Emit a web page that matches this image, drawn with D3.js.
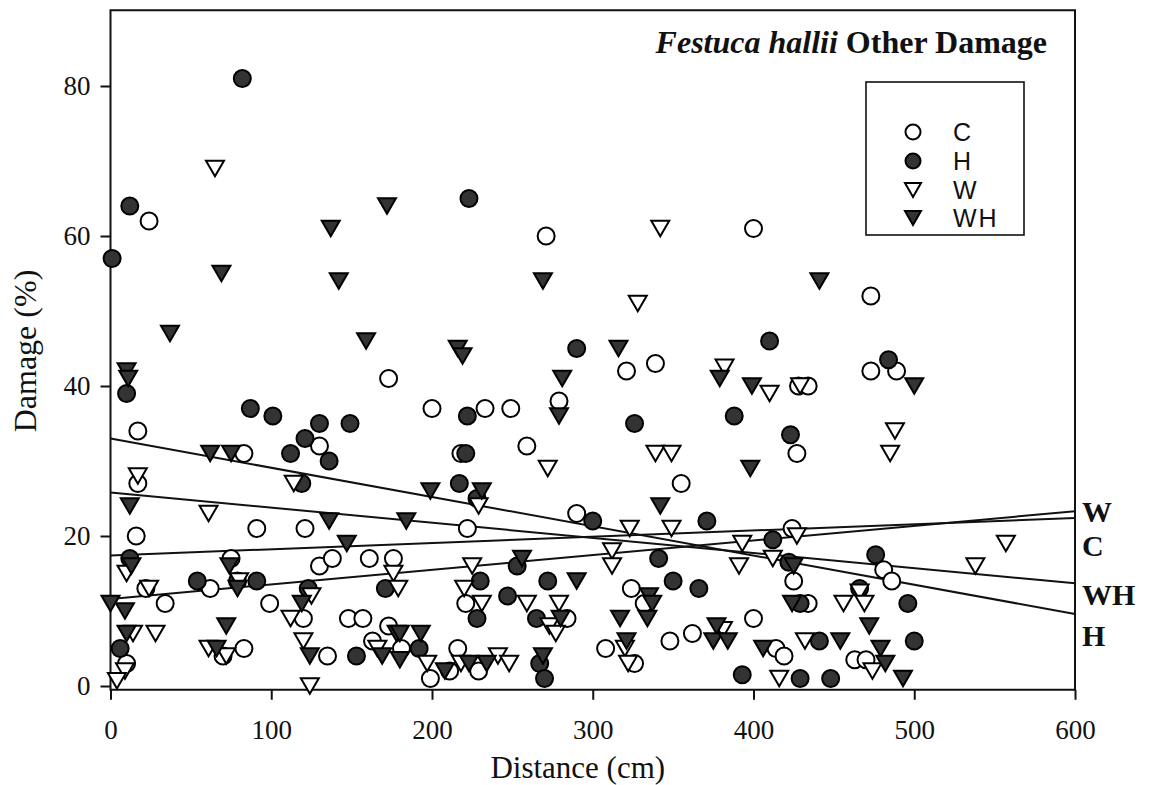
<!DOCTYPE html>
<html>
<head>
<meta charset="utf-8">
<script src="https://cdn.jsdelivr.net/npm/d3@7/dist/d3.min.js"></script>
<style>
  html, body { margin: 0; padding: 0; background: #fff; }
  svg { display: block; }
</style>
</head>
<body>
<svg id="chart" width="1151" height="785"></svg>
<script>
// Treatment groups, in drawing order
const groups = ["C", "H", "W", "WH"];

// Observations: [distance (cm), damage (%)]
const seriesC = [
  [24,62],[271,60],[400,61],[173,41],[17,34],[130,32],[83,31],[17,27],[339,43],[321,42],
  [200,37],[233,37],[249,37],[279,38],[218,31],[259,32],[355,27],[473,52],[473,42],[489,42],
  [428,40],[434,40],[427,31],[16,20],[91,21],[121,21],[75,17],[130,16],[138,17],[161,17],
  [176,17],[62,13],[22,13],[34,11],[99,11],[120,9],[148,9],[157,9],[173,8],[163,6],
  [83,5],[70,4],[135,4],[10,3],[290,23],[222,21],[221,11],[284,9],[324,13],[332,11],
  [400,9],[362,7],[348,6],[308,5],[326,3],[414,5],[181,5],[199,1],[211,2],[216,5],
  [229,2],[424,21],[425,14],[481,15.5],[486,14],[434,11],[419,4],[463,3.5],[470,3.5]
];
const seriesH = [
  [82,81],[12,64],[223,65],[1,57],[10,39],[87,37],[101,36],[130,35],[149,35],[121,33],
  [112,31],[136,30],[119,27],[290,45],[410,46],[222,36],[326,35],[388,36],[221,31],[217,27],
  [228,25],[484,43.5],[423,33.5],[12,17],[54,14],[79,14],[91,14],[123,13],[6,5],[153,4],
  [300,22],[371,22],[412,19.5],[341,17],[171,13],[253,16],[230,14],[228,9],[272,14],[247,12],
  [265,9],[350,14],[366,13],[267,3],[270,1],[393,1.5],[192,5],[422,16.5],[476,17.5],[466,13],
  [429,11],[496,11],[441,6],[500,6],[429,1],[448,1]
];
const seriesW = [
  [65,69],[342,61],[17,28],[114,27],[328,51],[272,29],[339,31],[349,31],[382,42.5],[410,39],
  [229,24],[429,40],[488,34],[485,31],[61,23],[10,15],[80,14],[24,13],[125,12],[112,9],
  [176,15],[166,5],[14,7],[28,7],[61,5],[72,4],[120,6],[9,2],[4,0.7],[124,0],
  [323,21],[349,21],[393,19],[412,17],[312,18],[312,16],[391,16],[179,13],[225,16],[220,13],
  [231,11],[259,11],[279,11],[273,8],[277,7],[381,7.5],[320,5],[322,3],[197,3],[218,3],
  [241,4],[248,3],[416,1],[427,20],[557,19],[538,16],[466,12.5],[456,11],[469,11],[432,6],
  [474,2]
];
const seriesWH = [
  [137,61],[172,64],[69,55],[142,54],[37,47],[159,46],[10,42],[11,41],[62,31],[75,31],
  [269,54],[216,45],[219,44],[316,45],[379,41],[399,40],[281,41],[279,36],[398,29],[199,26],
  [231,26],[342,24],[441,54],[500,40],[12,24],[136,22],[147,19],[13,16],[74,16],[79,13],
  [0,11],[9,10],[119,11],[178,7],[10,7],[72,8],[66,5],[124,4],[169,4],[184,22],
  [256,17],[290,14],[280,9],[335,12],[337,11],[317,9],[334,9],[377,8],[375,6],[384,6],
  [321,6],[269,4],[406,5],[180,7],[193,7],[180,3.5],[208,2],[223,3],[234,3],[425,16],
  [424,11],[472,8],[454,6],[479,5],[482,3],[493,1]
];

// Linear fits: predicted damage at distance 0 and at distance 600
const fitAt0   = [17.4, 33.0, 11.6, 25.8];
const fitAt600 = [22.4,  9.6, 23.3, 13.7];

// Labels placed beside the right axis, in order W, C, WH, H
const fitLabels = ["W", "C", "WH", "H"];
const fitLabelY = [23.3, 18.7, 12.2, 6.8];

// Axis ticks
const xTicks = [0, 100, 200, 300, 400, 500, 600];
const yTicks = [0, 20, 40, 60, 80];

const svg = d3.select("#chart");
const serif = "'Liberation Serif', 'Times New Roman', serif";
const sans = "'Liberation Sans', Arial, sans-serif";

const x = d3.scaleLinear().domain([0, 600]).range([110.5, 1075]);
const y = d3.scaleLinear().domain([0, 80]).range([686, 86]);
const yMin = -0.5, yMax = 90.1;

const plot = svg.append("g");

// Frame
plot.append("rect")
  .attr("x", x(0)).attr("y", y(yMax))
  .attr("width", x(600) - x(0)).attr("height", y(yMin) - y(yMax))
  .attr("fill", "none").attr("stroke", "#111").attr("stroke-width", 2);

// Axes
const xAxis = d3.axisBottom(x).tickValues(xTicks).tickSize(10).tickPadding(20);
const gx = svg.append("g").attr("transform", `translate(0,${y(yMin)})`).call(xAxis);
gx.select(".domain").remove();
gx.selectAll("line").attr("stroke", "#111").attr("stroke-width", 2);
gx.selectAll("text").attr("font-family", serif).attr("font-size", 27).attr("fill", "#111");

const yAxis = d3.axisLeft(y).tickValues(yTicks).tickSize(10).tickPadding(10);
const gy = svg.append("g").attr("transform", `translate(${x(0)},0)`).call(yAxis);
gy.select(".domain").remove();
gy.selectAll("line").attr("stroke", "#111").attr("stroke-width", 2);
gy.selectAll("text").attr("font-family", serif).attr("font-size", 27).attr("fill", "#111");

// Regression lines
groups.forEach((g, i) => {
  plot.append("line")
    .attr("x1", x(0)).attr("y1", y(fitAt0[i]))
    .attr("x2", x(600)).attr("y2", y(fitAt600[i]))
    .attr("stroke", "#111").attr("stroke-width", 2);
});

// Marker shapes
const R = 8.5;
const TS = 18;
function triDown(s) {
  const h = s * Math.sqrt(3) / 2;
  return `M${-s/2},${-h/2}L${s/2},${-h/2}L0,${h/2}Z`;
}
const styles = {
  C:  { shape: "circle",   fill: "#fff" },
  H:  { shape: "circle",   fill: "#333" },
  W:  { shape: "triangle", fill: "#fff" },
  WH: { shape: "triangle", fill: "#333" }
};
function drawMarker(sel, g, r, s) {
  const st = styles[g];
  if (st.shape === "circle") {
    sel.append("circle").attr("r", r)
      .attr("fill", st.fill).attr("stroke", "#000").attr("stroke-width", 2);
  } else {
    sel.append("path").attr("d", triDown(s))
      .attr("fill", st.fill).attr("stroke", "#000").attr("stroke-width", 2)
      .attr("stroke-linejoin", "miter");
  }
}

const dataBy = { C: seriesC, H: seriesH, W: seriesW, WH: seriesWH };
groups.forEach(g => {
  const layer = plot.append("g");
  dataBy[g].forEach(d => {
    const m = layer.append("g").attr("transform", `translate(${x(d[0])},${y(d[1])})`);
    drawMarker(m, g, R, TS);
  });
});

// Title
svg.append("text")
  .attr("x", 1047).attr("y", 53)
  .attr("text-anchor", "end")
  .attr("font-family", serif).attr("font-size", 32).attr("font-weight", "bold")
  .attr("fill", "#111")
  .call(t => {
    t.append("tspan").attr("font-style", "italic").text("Festuca hallii");
    t.append("tspan").text(" Other Damage");
  });

// Legend
const lg = svg.append("g");
lg.append("rect")
  .attr("x", 866).attr("y", 82).attr("width", 158).attr("height", 153)
  .attr("fill", "#fff").attr("stroke", "#111").attr("stroke-width", 1.6);
const legendRowY = [132, 161, 190, 218];
groups.forEach((g, i) => {
  const m = lg.append("g").attr("transform", `translate(913,${legendRowY[i]})`);
  drawMarker(m, g, 7.5, 16);
  lg.append("text")
    .attr("x", 953).attr("y", legendRowY[i])
    .attr("dy", "0.36em")
    .attr("font-family", sans).attr("font-size", 25).attr("letter-spacing", 2)
    .attr("fill", "#111")
    .text(g);
});

// Fit labels beside the right axis
fitLabels.forEach((lab, i) => {
  svg.append("text")
    .attr("x", 1082).attr("y", y(fitLabelY[i]))
    .attr("dy", "0.35em")
    .attr("font-family", serif).attr("font-size", 30).attr("font-weight", "bold")
    .attr("fill", "#111")
    .text(lab);
});

// Axis titles
svg.append("text")
  .attr("x", (x(0) + x(600)) / 2 - 15).attr("y", 778)
  .attr("text-anchor", "middle")
  .attr("font-family", serif).attr("font-size", 31).attr("fill", "#111")
  .text("Distance (cm)");

svg.append("text")
  .attr("transform", `translate(36,351) rotate(-90)`)
  .attr("text-anchor", "middle")
  .attr("font-family", serif).attr("font-size", 32).attr("fill", "#111")
  .text("Damage (%)");
</script>
</body>
</html>
